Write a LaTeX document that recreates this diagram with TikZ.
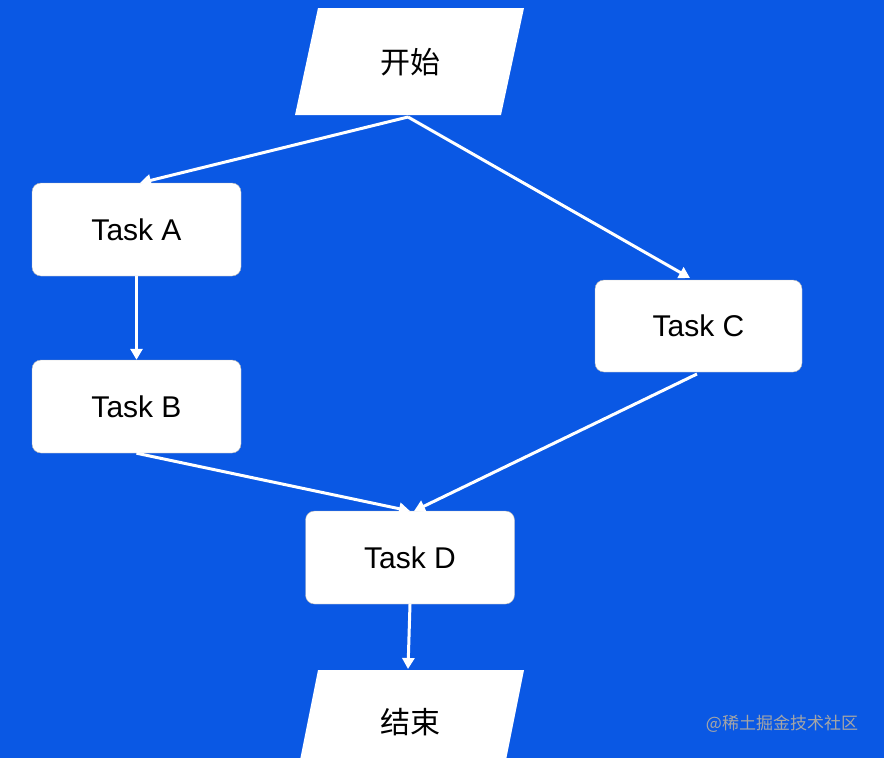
\documentclass[tikz,border=0pt]{standalone}
\usepackage{fontspec}
\setmainfont{Liberation Sans}
\newfontfamily\cjk{Noto Sans CJK SC}
\usetikzlibrary{arrows.meta}
\definecolor{bg}{RGB}{10,88,228}
\begin{document}
\begin{tikzpicture}[x=1pt,y=-1pt,
  box/.style={draw=gray!60,fill=white,rounded corners=9pt,minimum width=209pt,minimum height=93pt,font=\fontsize{30}{36}\selectfont,inner sep=0pt},
  par/.style={fill=white,draw=none},
  conn/.style={draw=white,line width=3pt,-{Triangle[width=12pt,length=11pt]}}]
\fill[bg] (0,0) rectangle (884,758);
\useasboundingbox (0,0) rectangle (884,758);
% start parallelogram
\fill[white] (318,8) -- (524,8) -- (501,115) -- (295,115) -- cycle;
\node (s) at (410,62) {\cjk\fontsize{30}{36}\selectfont 开始};
\coordinate (sb) at (408,117);
\node[box] (a) at (136.5,229.5) {Task A};
\node[box] (b) at (136.5,406.5) {Task B};
\node[box,minimum width=207pt,minimum height=92pt] (c) at (698.5,326) {Task C};
\node[box] (d) at (410,557.5) {Task D};
\fill[white] (318,670) -- (524,670) -- (504,770) -- (298,770) -- cycle;
\node (e) at (410,722) {\cjk\fontsize{30}{36}\selectfont 结束};
\coordinate (et) at (408,669);
\draw[conn] (sb) -- (140,183);
\draw[conn] (sb) -- (690,278);
\draw[conn] (a.south) -- (b.north);
\draw[conn] (b.south) -- (410,511);
\draw[conn] (697,374) -- (414,511);
\draw[conn] (d.south) -- (et);
\node[text=gray!70,font=\cjk\fontsize{17}{20}\selectfont] (w) at (782,724) {@稀土掘金技术社区};
\end{tikzpicture}
\end{document}
